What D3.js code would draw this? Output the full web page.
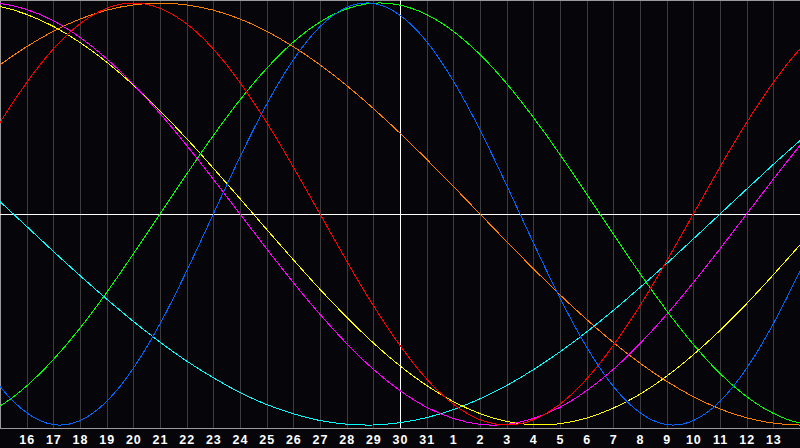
<!DOCTYPE html>
<html>
<head>
<meta charset="utf-8">
<script src="https://cdn.jsdelivr.net/npm/d3@7"></script>
<style>
  html, body { margin: 0; padding: 0; background: #060509; }
  svg { display: block; }
</style>
</head>
<body>
<svg id="chart" width="800" height="448"></svg>
<script>
// Day offsets relative to the current day (30), one sample per day
const dayOffsets = [-16,-15,-14,-13,-12,-11,-10,-9,-8,-7,-6,-5,-4,-3,-2,-1,0,1,2,3,4,5,6,7,8,9,10,11,12,13,14,15,16];

// Tick labels (day of month) at offsets -14 .. 14
const tickOffsets = [-14,-13,-12,-11,-10,-9,-8,-7,-6,-5,-4,-3,-2,-1,0,1,2,3,4,5,6,7,8,9,10,11,12,13,14];
const tickLabels = ["16","17","18","19","20","21","22","23","24","25","26","27","28","29","30","31","1","2","3","4","5","6","7","8","9","10","11","12","13"];

// Series values (-1 .. 1), per day offset
const cyanValues = [0.177,0.059,-0.059,-0.177,-0.292,-0.403,-0.509,-0.607,-0.697,-0.776,-0.846,-0.903,-0.947,-0.979,-0.996,-1.000,-0.989,-0.965,-0.927,-0.876,-0.813,-0.738,-0.653,-0.559,-0.457,-0.348,-0.235,-0.118,0.000,0.118,0.235,0.348,0.457];
const orangeValues = [0.609,0.707,0.793,0.866,0.924,0.966,0.991,1.000,0.991,0.966,0.924,0.866,0.793,0.707,0.609,0.500,0.383,0.259,0.131,0.000,-0.131,-0.259,-0.383,-0.500,-0.609,-0.707,-0.793,-0.866,-0.924,-0.966,-0.991,-1.000,-0.991];
const yellowValues = [0.999,0.983,0.946,0.889,0.813,0.720,0.611,0.489,0.357,0.217,0.073,-0.073,-0.217,-0.357,-0.489,-0.611,-0.720,-0.813,-0.889,-0.946,-0.983,-0.999,-0.994,-0.967,-0.920,-0.854,-0.769,-0.667,-0.552,-0.425,-0.288,-0.146,0.000];
const magentaValues = [0.997,0.997,0.969,0.916,0.837,0.736,0.614,0.476,0.325,0.165,0.000,-0.165,-0.325,-0.476,-0.614,-0.736,-0.837,-0.916,-0.969,-0.997,-0.997,-0.969,-0.916,-0.837,-0.736,-0.614,-0.476,-0.325,-0.165,0.000,0.165,0.325,0.476];
const greenValues = [-0.972,-0.910,-0.815,-0.690,-0.541,-0.372,-0.189,0.000,0.189,0.372,0.541,0.690,0.815,0.910,0.972,0.999,0.990,0.945,0.866,0.756,0.618,0.458,0.282,0.095,-0.095,-0.282,-0.458,-0.618,-0.756,-0.866,-0.945,-0.990,-0.999];
const redValues = [0.223,0.434,0.623,0.782,0.901,0.975,1.000,0.975,0.901,0.782,0.623,0.434,0.223,0.000,-0.223,-0.434,-0.623,-0.782,-0.901,-0.975,-1.000,-0.975,-0.901,-0.782,-0.623,-0.434,-0.223,0.000,0.223,0.434,0.623,0.782,0.901];
const blueValues = [-0.631,-0.817,-0.942,-0.998,-0.979,-0.888,-0.731,-0.520,-0.270,0.000,0.270,0.520,0.731,0.888,0.979,0.998,0.942,0.817,0.631,0.398,0.136,-0.136,-0.398,-0.631,-0.817,-0.942,-0.998,-0.979,-0.888,-0.731,-0.520,-0.270,0.000];

const seriesNames = ["cyan","orange","yellow","magenta","green","red","blue"];
const seriesColors = ["#00ffff","#ff8000","#ffff00","#ff00ff","#00ff00","#ff0000","#0066ff"];
const seriesValues = [cyanValues, orangeValues, yellowValues, magentaValues, greenValues, redValues, blueValues];

const W = 800, H = 448;
const plotBottom = 428;
const svg = d3.select("#chart");

svg.append("rect").attr("width", W).attr("height", H).attr("fill", "#060509");

const x = d3.scaleLinear().domain([-15, 15]).range([0, 800]);
const y = d3.scaleLinear().domain([-1, 1]).range([425, 3]);

svg.append("defs").append("clipPath").attr("id", "plotClip")
  .append("rect").attr("x", 0).attr("y", 0).attr("width", W).attr("height", plotBottom);

// day grid lines
svg.append("g").selectAll("line")
  .data(tickOffsets.filter(d => d !== 0))
  .join("line")
  .attr("x1", d => Math.round(x(d)) + 0.5)
  .attr("x2", d => Math.round(x(d)) + 0.5)
  .attr("y1", 0).attr("y2", plotBottom)
  .attr("stroke", "#3c3c3c").attr("stroke-width", 1)
  .attr("shape-rendering", "crispEdges");

// frame
const frame = svg.append("g").attr("stroke", "#9a9a9a").attr("stroke-width", 1).attr("shape-rendering", "crispEdges");
frame.append("line").attr("x1", 0).attr("x2", W).attr("y1", 0.5).attr("y2", 0.5);
frame.append("line").attr("x1", 0.5).attr("x2", 0.5).attr("y1", 0).attr("y2", plotBottom);
frame.append("line").attr("x1", 0).attr("x2", W).attr("y1", plotBottom + 0.5).attr("y2", plotBottom + 0.5);

// zero line and today line
svg.append("line")
  .attr("x1", 0).attr("x2", W)
  .attr("y1", Math.round(y(0)) + 0.5).attr("y2", Math.round(y(0)) + 0.5)
  .attr("stroke", "#ffffff").attr("stroke-width", 1).attr("shape-rendering", "crispEdges");
svg.append("line")
  .attr("x1", Math.round(x(0)) + 0.5).attr("x2", Math.round(x(0)) + 0.5)
  .attr("y1", 0).attr("y2", plotBottom)
  .attr("stroke", "#ffffff").attr("stroke-width", 1).attr("shape-rendering", "crispEdges");

// curves
const line = d3.line()
  .x((d, i) => x(dayOffsets[i]))
  .y(d => y(d))
  .curve(d3.curveNatural);

svg.append("g").attr("clip-path", "url(#plotClip)")
  .selectAll("path")
  .data(seriesValues)
  .join("path")
  .attr("d", d => line(d))
  .attr("fill", "none")
  .attr("stroke", (d, i) => seriesColors[i])
  .attr("stroke-width", 1)
  .attr("shape-rendering", "crispEdges");

// axis labels
const axis = d3.axisBottom(x)
  .tickValues(tickOffsets)
  .tickFormat((d, i) => tickLabels[i])
  .tickSize(0)
  .tickPadding(0);
const ag = svg.append("g").attr("transform", `translate(0,${plotBottom})`).call(axis);
ag.select(".domain").remove();
ag.selectAll("text")
  .attr("dy", null)
  .attr("y", 16)
  .attr("fill", "#ffffff")
  .attr("font-family", "'Liberation Sans', Arial, sans-serif")
  .attr("font-weight", "bold")
  .attr("font-size", "12.5px")
  .attr("letter-spacing", "1px");
</script>
</body>
</html>
